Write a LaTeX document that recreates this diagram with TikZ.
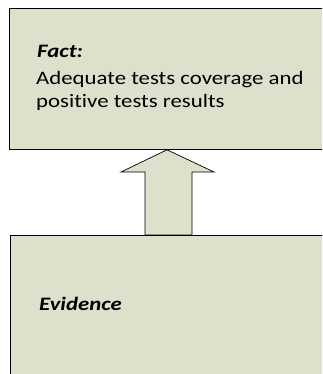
\documentclass[tikz,border=0pt]{standalone}
\usepackage{fontspec}
\setmainfont[FakeStretch=1.2,Ligatures=NoCommon]{Carlito}
\usetikzlibrary{positioning}
\usetikzlibrary{calc}
\definecolor{boxfill}{RGB}{221,225,203}

\begin{document}
\begin{tikzpicture}
  [x=1pt, y=-1pt,
  box/.style={rectangle,draw=black,fill=boxfill,line width=0.8pt,inner sep=0pt,anchor=north west},
  boxtext/.style={anchor=base west,inner sep=0pt,align=left,font=\fontsize{19}{22.3}\selectfont},
  upblock/.style={draw=black,fill=boxfill,line width=0.7pt,line join=miter}]
  \useasboundingbox (0,0) rectangle (322,374);
  \clip (0,0) rectangle (322,374);

  \node[box,minimum width=330pt,minimum height=141pt] (fact) at (9,8) {};
  \node[box,minimum width=330pt,minimum height=160pt] (evid) at (10,235) {};

  \node[boxtext] (facttitle) at (37,57.3) {\textbf{\textit{Fact:}}};
  \node[boxtext] (facttext) at (36,107.3) {Adequate tests coverage and\\positive tests results};
  \node[boxtext] (evidtitle) at (39,310.7) {\textbf{\textit{Evidence}}};

  %up arrow from evidence to fact
  \coordinate (tip) at (167,149);
  \draw[upblock] (145,235) -- (145,172) -- (121,172) -- (fact.south -| tip)
    -- (214,172) -- (192,172) -- (192,235) -- cycle;
  \draw[line width=0.8pt] (evid.north west) -- (evid.north east);

\end{tikzpicture}
\end{document}
